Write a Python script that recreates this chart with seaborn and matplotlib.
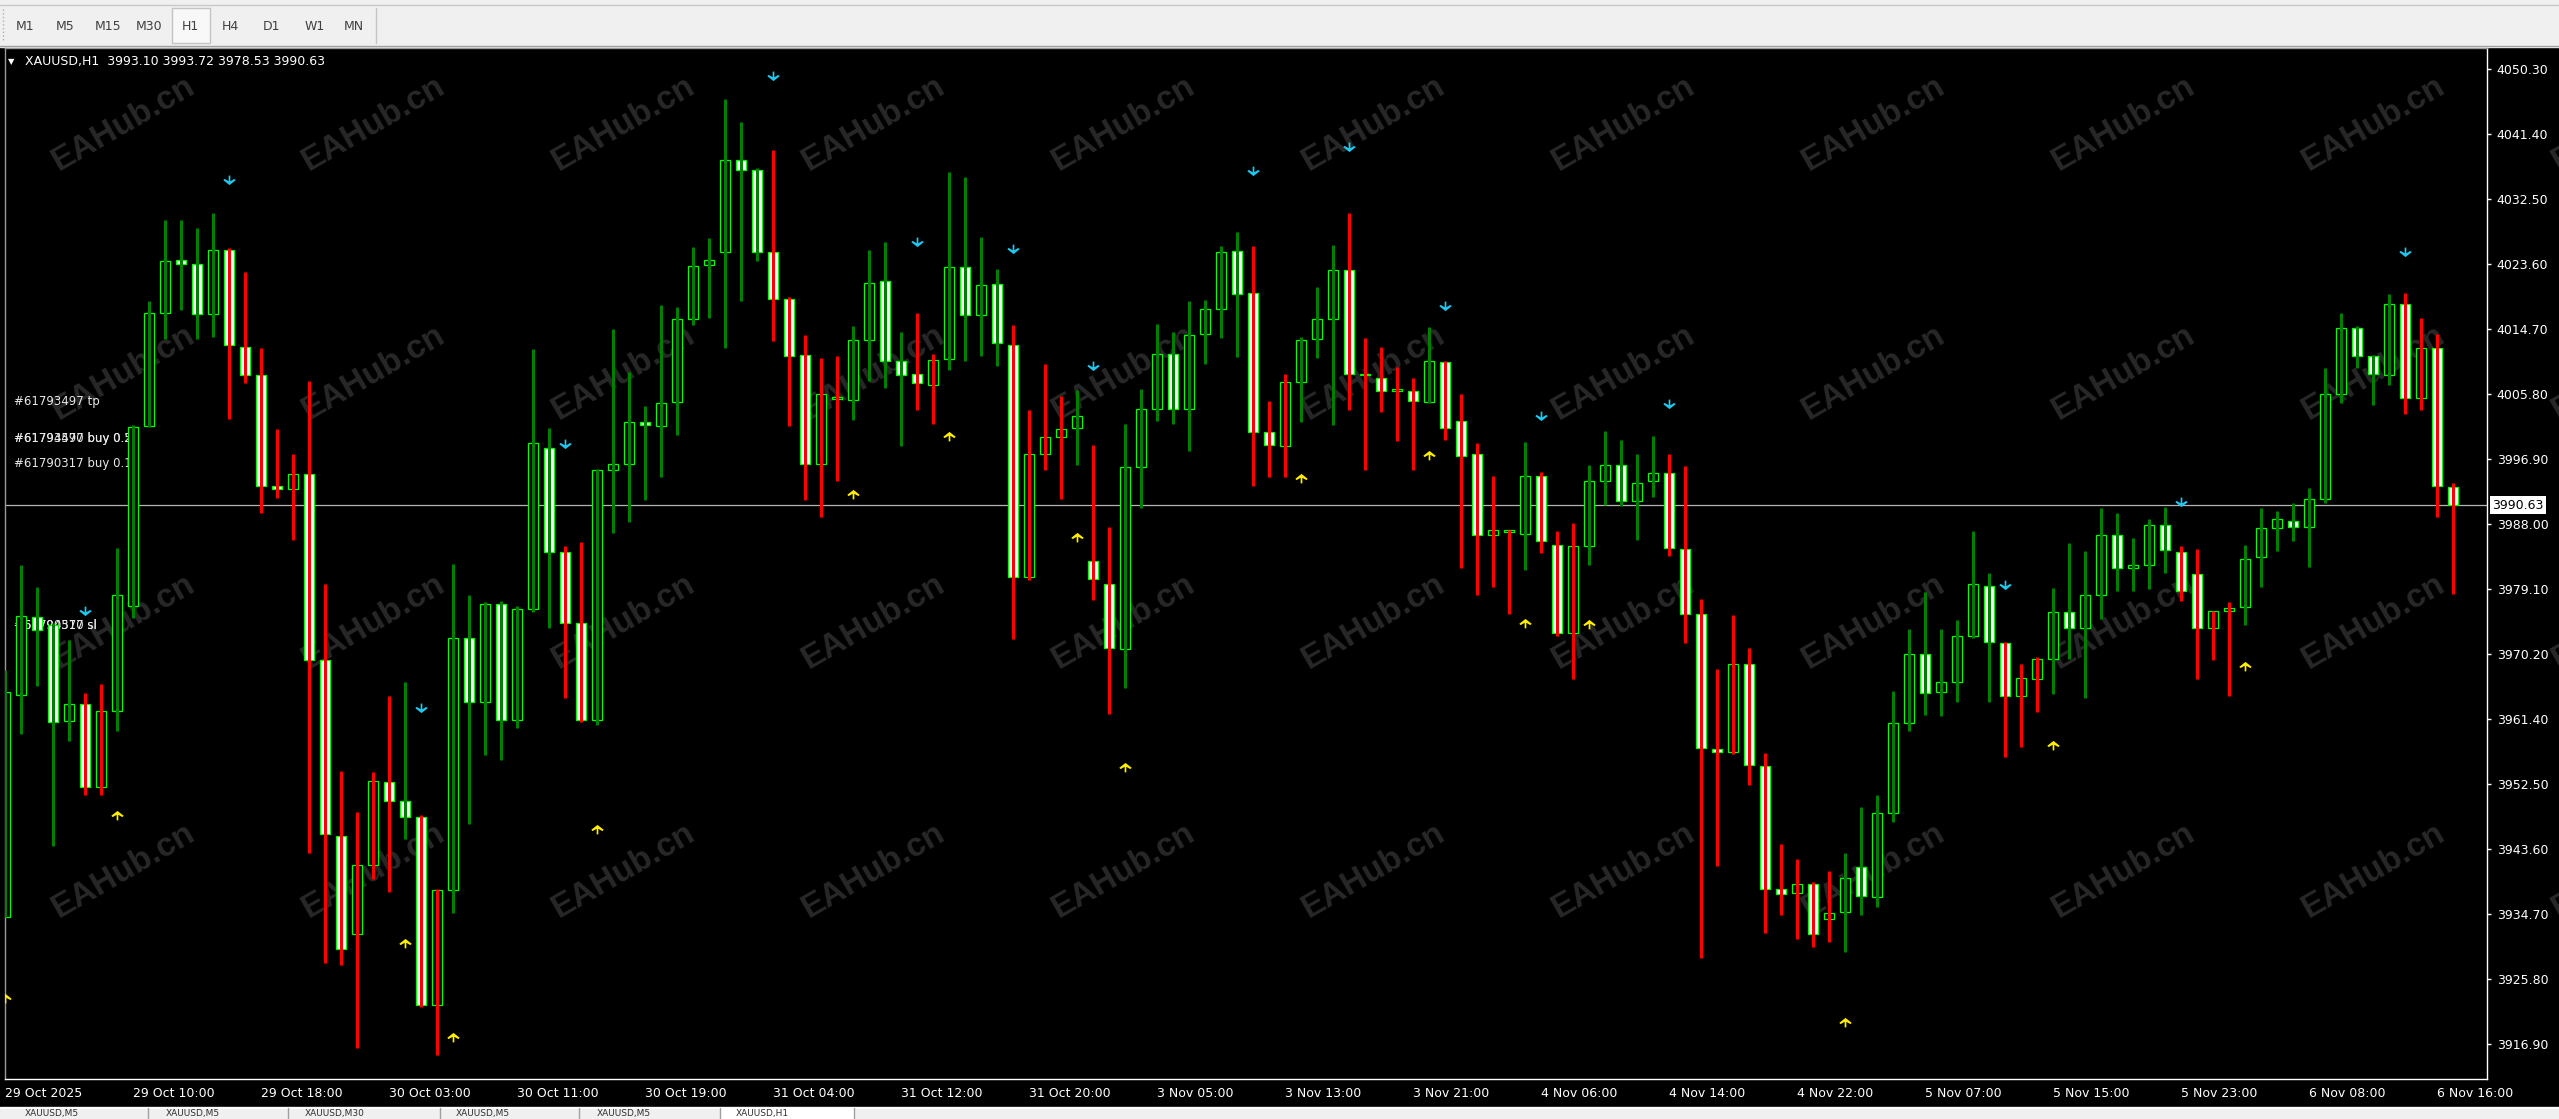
import numpy as np
import matplotlib
matplotlib.use('Agg')
import matplotlib.pyplot as plt
from matplotlib.patches import Rectangle
from matplotlib.path import Path
import seaborn as sns

# XAUUSD H1 bars (oldest -> newest)
opens = [3934.2, 3964.6, 3975.3, 3974.2, 3961.1, 3963.4, 3952.0, 3962.4, 3976.9, 4001.5,
         4017.0, 4024.2, 4023.6, 4016.8, 4025.6, 4012.3, 4008.4, 3993.2, 3992.8, 3994.9,
         3969.4, 3945.4, 3931.9, 3941.4, 3952.7, 3950.2, 3947.9, 3922.2, 3937.9, 3972.5,
         3963.7, 3977.1, 3961.2, 3976.4, 3998.4, 3984.2, 3974.5, 3961.2, 3995.4, 3996.3,
         4002.0, 4001.5, 4004.7, 4016.1, 4023.5, 4025.3, 4037.9, 4036.5, 4025.3, 4018.8,
         4011.2, 3996.3, 4005.2, 4005.1, 4013.2, 4021.3, 4010.4, 4008.6, 4007.1, 4010.6,
         4023.2, 4016.7, 4020.9, 4012.6, 3980.8, 3997.7, 4000.0, 4001.2, 3983.0, 3979.8,
         3970.9, 3995.9, 4003.8, 4011.4, 4003.8, 4014.1, 4017.5, 4025.5, 4019.7, 4000.6,
         3998.7, 4007.5, 4013.4, 4016.1, 4022.8, 4008.4, 4008.0, 4006.2, 4006.3, 4004.7,
         4010.2, 4002.2, 3997.6, 3986.6, 3986.9, 3986.7, 3994.6, 3985.2, 3973.1, 3985.0,
         3994.0, 3996.1, 3991.2, 3993.9, 3995.1, 3984.6, 3975.7, 3957.2, 3956.8, 3968.9,
         3954.9, 3938.1, 3937.6, 3938.8, 3934.0, 3935.0, 3941.1, 3937.0, 3948.5, 3960.8,
         3970.3, 3965.0, 3966.5, 3972.7, 3979.6, 3971.8, 3964.5, 3966.8, 3969.6, 3976.0,
         3973.8, 3978.4, 3986.6, 3982.1, 3982.5, 3987.9, 3984.2, 3981.2, 3973.8, 3976.2,
         3976.7, 3983.5, 3987.5, 3988.5, 3987.7, 3991.5, 4005.9, 4014.9, 4011.1, 4008.4,
         4018.2, 4005.3, 4012.2, 3993.10]
highs = [3968.1, 3982.4, 3979.4, 3974.5, 3972.2, 3964.9, 3966.1, 3984.8, 4001.6, 4018.6,
         4029.7, 4029.7, 4028.6, 4030.6, 4025.8, 4022.5, 4012.1, 4001.1, 3997.7, 4007.6,
         3979.9, 3954.3, 3948.6, 3954.1, 3964.5, 3966.4, 3948.2, 3938.1, 3982.6, 3978.4,
         3977.4, 3977.5, 3976.8, 4012.0, 4001.2, 3985.1, 3985.6, 3995.6, 4014.8, 4008.9,
         4004.2, 4018.0, 4017.8, 4026.0, 4027.2, 4046.3, 4043.1, 4036.8, 4039.3, 4019.2,
         4014.0, 4010.8, 4011.1, 4015.2, 4025.6, 4026.7, 4014.4, 4017.0, 4011.3, 4036.3,
         4035.6, 4027.4, 4023.0, 4015.3, 4003.6, 4010.0, 4005.6, 4006.4, 3998.9, 3987.7,
         4001.8, 4006.5, 4015.5, 4014.3, 4018.6, 4018.7, 4026.1, 4028.0, 4026.1, 4004.9,
         4008.6, 4013.6, 4020.5, 4026.2, 4030.7, 4013.5, 4012.3, 4009.6, 4008.1, 4015.0,
         4010.4, 4005.8, 3999.2, 3994.7, 3987.3, 3999.3, 3995.2, 3987.1, 3988.2, 3996.2,
         4000.8, 3999.6, 3997.7, 4000.1, 3997.7, 3996.0, 3977.8, 3968.2, 3975.6, 3971.1,
         3956.7, 3944.2, 3942.2, 3939.0, 3940.5, 3943.0, 3949.3, 3950.9, 3965.2, 3973.7,
         3978.8, 3973.7, 3974.9, 3987.1, 3981.3, 3971.9, 3968.9, 3969.9, 3979.3, 3985.5,
         3984.3, 3990.3, 3989.5, 3986.1, 3988.8, 3990.4, 3985.1, 3984.6, 3976.2, 3977.4,
         3985.2, 3990.3, 3989.8, 3990.9, 3993.0, 4009.4, 4017.0, 4015.2, 4011.2, 4019.5,
         4019.7, 4016.3, 4014.1, 3993.72]
lows = [3934.2, 3959.3, 3965.9, 3944.0, 3958.3, 3950.9, 3950.9, 3959.7, 3975.2, 4001.4,
        4013.4, 4017.3, 4013.4, 4013.7, 4002.4, 4007.4, 3989.6, 3991.6, 3985.9, 3943.0,
        3928.0, 3927.7, 3916.3, 3939.5, 3937.7, 3944.9, 3922.0, 3915.4, 3934.8, 3947.0,
        3956.4, 3955.8, 3960.2, 3976.0, 3973.8, 3964.3, 3961.0, 3960.5, 3986.8, 3988.3,
        3991.4, 3994.5, 4000.2, 4015.3, 4016.3, 4012.1, 4018.6, 4024.0, 4013.1, 4001.5,
        3991.4, 3989.0, 3994.0, 4002.3, 4007.6, 4006.7, 3998.7, 4003.6, 4001.8, 4009.1,
        4010.4, 4011.1, 4009.7, 3972.3, 3980.4, 3995.4, 3991.5, 3996.1, 3977.7, 3962.1,
        3965.6, 3990.3, 4002.2, 4001.8, 3998.0, 4010.0, 4013.5, 4010.9, 3993.3, 3994.5,
        3994.5, 4002.0, 4010.8, 4001.6, 4003.6, 3995.4, 4003.4, 3999.4, 3995.4, 4004.6,
        3999.6, 3982.1, 3978.4, 3979.5, 3975.8, 3981.7, 3984.1, 3972.7, 3966.8, 3982.4,
        3990.6, 3990.5, 3985.9, 3991.7, 3983.7, 3971.8, 3928.6, 3941.2, 3956.6, 3952.4,
        3932.1, 3934.5, 3931.3, 3930.2, 3930.8, 3929.5, 3934.6, 3935.7, 3947.3, 3959.7,
        3961.9, 3961.8, 3963.7, 3972.5, 3963.7, 3956.2, 3957.5, 3962.3, 3964.8, 3969.6,
        3964.2, 3975.1, 3978.9, 3978.9, 3979.1, 3981.4, 3977.5, 3966.8, 3969.4, 3964.5,
        3974.2, 3979.5, 3984.4, 3985.7, 3982.2, 3991.0, 4004.6, 4009.4, 4004.4, 4007.1,
        4003.1, 4003.6, 3989.0, 3978.53]
closes = [3965.0, 3975.5, 3973.6, 3961.0, 3963.4, 3952.0, 3962.4, 3978.3, 4001.4, 4017.0,
          4024.0, 4023.6, 4016.8, 4025.6, 4012.6, 4008.4, 3993.2, 3992.8, 3994.9, 3969.4,
          3945.6, 3929.9, 3941.4, 3952.9, 3950.2, 3948.0, 3922.2, 3937.9, 3972.5, 3963.7,
          3977.1, 3961.2, 3976.4, 3999.2, 3984.2, 3974.5, 3961.2, 3995.4, 3996.3, 4002.0,
          4001.6, 4004.6, 4016.1, 4023.4, 4024.2, 4037.9, 4036.5, 4025.3, 4018.8, 4011.0,
          3996.3, 4005.8, 4005.5, 4013.2, 4021.0, 4010.4, 4008.4, 4007.4, 4010.5, 4023.2,
          4016.7, 4020.8, 4012.9, 3980.8, 3997.7, 4000.0, 4001.1, 4002.9, 3980.6, 3971.1,
          3995.9, 4003.8, 4011.4, 4003.8, 4014.0, 4017.5, 4025.3, 4019.6, 4000.6, 3998.9,
          4007.5, 4013.3, 4016.1, 4022.8, 4008.6, 4008.6, 4006.2, 4006.6, 4004.9, 4010.4,
          4001.2, 3997.4, 3986.6, 3987.3, 3987.3, 3994.6, 3985.7, 3973.1, 3985.0, 3994.0,
          3996.1, 3991.2, 3993.7, 3995.1, 3984.8, 3975.7, 3957.4, 3956.9, 3968.9, 3955.1,
          3938.1, 3937.4, 3938.8, 3931.9, 3934.8, 3939.6, 3937.2, 3948.5, 3960.8, 3970.3,
          3964.9, 3966.4, 3972.7, 3979.9, 3971.9, 3964.5, 3967.0, 3969.6, 3976.0, 3973.8,
          3978.3, 3986.6, 3982.1, 3982.5, 3987.9, 3984.5, 3978.9, 3973.8, 3976.1, 3976.6,
          3983.3, 3987.5, 3988.8, 3987.7, 3991.5, 4005.9, 4014.9, 4011.0, 4008.6, 4018.2,
          4005.3, 4012.2, 3993.3, 3990.63]
# indicator direction painted on the high-low bar (+1 up, -1 down)
signal = [1, 1, 1, 1, 1, -1, -1, 1, 1, 1, 1, 1, 1, 1, -1, -1, -1, -1, -1, -1,
          -1, -1, -1, -1, -1, 1, -1, -1, 1, 1, 1, 1, 1, 1, 1, -1, -1, 1, 1, 1,
          1, 1, 1, 1, 1, 1, 1, 1, -1, -1, -1, -1, -1, 1, 1, 1, 1, -1, -1, 1,
          1, 1, 1, -1, -1, -1, -1, 1, -1, -1, 1, 1, 1, 1, 1, 1, 1, 1, -1, -1,
          -1, 1, 1, 1, -1, -1, -1, -1, -1, 1, -1, -1, -1, -1, -1, 1, -1, -1, -1, 1,
          1, 1, 1, 1, -1, -1, -1, -1, -1, -1, -1, -1, -1, -1, -1, 1, 1, 1, 1, 1,
          1, 1, 1, 1, 1, -1, -1, -1, 1, 1, 1, 1, 1, 1, 1, 1, -1, -1, -1, -1,
          1, 1, 1, 1, 1, 1, 1, 1, 1, 1, -1, -1, -1, -1]

# signal arrows (bar index, price)
dn_idx = [5, 14, 26, 35, 48, 57, 63, 68, 78, 84, 90, 96, 104, 125, 136, 150]
dn_price = [3976.0, 4035.0, 3962.8, 3998.9, 4049.2, 4026.5, 4025.6, 4009.6,
            4036.2, 4039.5, 4017.7, 4002.7, 4004.4, 3979.6, 3991.0, 4025.1]
up_idx = [0, 7, 25, 28, 37, 53, 59, 67, 70, 81, 89, 95, 99, 115, 128, 140]
up_price = [3923.3, 3948.4, 3930.8, 3918.0, 3946.5, 3992.3, 4000.2, 3986.4,
            3954.9, 3994.5, 3997.6, 3974.7, 3974.5, 3920.0, 3958.0, 3968.7]

# order labels (text, price)
order_text = ['#61793497 tp', '#61794570 buy 0.2', '#61793497 buy 0.5',
              '#61790317 buy 0.1', '#61794570 sl', '#61790317 sl']
order_price = [4004.8, 3999.8, 3999.8, 3996.3, 3974.2, 3974.2]

y_ticks = [4050.30, 4041.40, 4032.50, 4023.60, 4014.70, 4005.80, 3996.90, 3988.00,
           3979.10, 3970.20, 3961.40, 3952.50, 3943.60, 3934.70, 3925.80, 3916.90]
x_tick_labels = ['29 Oct 2025', '29 Oct 10:00', '29 Oct 18:00', '30 Oct 03:00', '30 Oct 11:00',
                 '30 Oct 19:00', '31 Oct 04:00', '31 Oct 12:00', '31 Oct 20:00', '3 Nov 05:00',
                 '3 Nov 13:00', '3 Nov 21:00', '4 Nov 06:00', '4 Nov 14:00', '4 Nov 22:00',
                 '5 Nov 07:00', '5 Nov 15:00', '5 Nov 23:00', '6 Nov 08:00', '6 Nov 16:00']
last_price = 3990.63
header = 'XAUUSD,H1  3993.10 3993.72 3978.53 3990.63'
tf_tabs = ['M1', 'M5', 'M15', 'M30', 'H1', 'H4', 'D1', 'W1', 'MN']
chart_tabs = ['XAUUSD,M5', 'XAUUSD,M5', 'XAUUSD,M30', 'XAUUSD,M5', 'XAUUSD,M5', 'XAUUSD,H1']

sns.set_style('dark')
plt.rcParams['font.family'] = ['DejaVu Sans']

W, H = 2559, 1119
fig = plt.figure(figsize=(W / 100, H / 100), dpi=100, facecolor='black')

# background layer in pixel coordinates (toolbar, tabs, watermark)
bg = fig.add_axes([0, 0, 1, 1], zorder=0)
bg.set_xlim(0, W)
bg.set_ylim(H, 0)
bg.axis('off')
bg.add_patch(Rectangle((0, 0), W, 47, color='#f0f0f0', zorder=1))
bg.plot([0, W], [5, 5], color='#c8c8c8', lw=1)
bg.plot([0, W], [46, 46], color='#a0a0a0', lw=1)
bg.add_patch(Rectangle((172, 8), 38, 35, fc='#f8f8f8', ec='#c4c4c4', lw=1, zorder=1))
bg.plot([376, 376], [8, 43], color='#c4c4c4', lw=1)
bg.plot([3, 3], [9, 42], color='#b0b0b0', lw=1, ls=':')
for lbl, xc in zip(tf_tabs, [25, 65, 108, 149, 190, 230, 272, 315, 354]):
    bg.text(xc, 27, lbl, ha='center', va='center', fontsize=9, color='#404040', zorder=2)

bg.add_patch(Rectangle((0, 1107), W, 12, color='#f0f0f0', zorder=1))
bg.plot([0, W], [1107.5, 1107.5], color='white', lw=1.2, zorder=2)
bg.add_patch(Rectangle((720, 1108), 134, 11, color='white', zorder=1))
for xs in [148, 288, 440, 579, 720, 854]:
    bg.plot([xs, xs], [1108, 1119], color='#a0a0a0', lw=1, zorder=2)
for lbl, xs in zip(chart_tabs, [25, 166, 305, 456, 597, 736]):
    bg.text(xs, 1113.5, lbl, ha='left', va='center', fontsize=6.5, color='#303030', zorder=2)

for m in range(4):
    for n in range(11):
        bg.text(124 + 250 * n, 124 + 249 * m, 'EAHub.cn', rotation=30, ha='center', va='center',
                rotation_mode='anchor', fontsize=24, fontweight='bold', family='Liberation Sans',
                color='#282828', zorder=1)

bg.text(11, 62, '\u25bc', ha='center', va='center', fontsize=6, color='white', zorder=2)
bg.text(25, 62, header, ha='left', va='center', fontsize=9, color='white', zorder=2)

# price chart
ax = fig.add_axes([5 / W, 1 - 1079 / H, 2482 / W, 1031 / H], zorder=1)
ax.set_facecolor('none')
ax.grid(False)

x = np.arange(len(opens))
o = np.array(opens)
c = np.array(closes)
bear = c < o
body_lo = np.minimum(o, c)
body_h = np.maximum(np.abs(c - o), 0.12)

for txt, p in zip(order_text, order_price):
    ax.text(0.54, p, txt, ha='left', va='center', fontsize=8.5, color='#e8e8e8', zorder=1)

ax.axhline(last_price, color='#b4b4b4', lw=0.9, zorder=1.5)
ax.bar(x, body_h, bottom=body_lo, width=0.62, color=np.where(bear, 'white', 'black'),
       edgecolor='#00ff00', linewidth=0.9, zorder=3)
ax.vlines(x, lows, highs, colors=np.where(np.array(signal) > 0, '#008000', '#ff0000'),
          linewidth=2.2, zorder=4)

dn_marker = Path([(-0.13, 0.9), (0.13, 0.9), (0.13, 0.05), (0.75, 0.4), (0.95, 0.2), (0.0, -0.55),
                  (-0.95, 0.2), (-0.75, 0.4), (-0.13, 0.05), (-0.13, 0.9)])
up_marker = Path([(vx, -vy) for vx, vy in dn_marker.vertices])
sns.scatterplot(x=dn_idx, y=dn_price, ax=ax, marker=dn_marker, s=80, color='#20c8f0',
                linewidth=0, zorder=5, legend=False)
sns.scatterplot(x=up_idx, y=up_price, ax=ax, marker=up_marker, s=80, color='#ffee00',
                linewidth=0, zorder=5, legend=False)

ax.set_xlim(-0.019, 155.106)
ax.set_ylim(3912.09, 4053.22)

ax.yaxis.tick_right()
ax.set_yticks(y_ticks, labels=[f'{v:.2f}' for v in y_ticks])
ax.set_xticks(x[::8], labels=x_tick_labels)
for t in ax.get_xticklabels():
    t.set_ha('left')
ax.tick_params(axis='both', colors='white', labelcolor='white', length=3, width=1,
               direction='out', pad=3, labelsize=9)
ax.tick_params(axis='y', pad=4)
ax.set_xlabel('')
ax.set_ylabel('')
for side in ['right', 'bottom']:
    ax.spines[side].set_color('white')
    ax.spines[side].set_linewidth(1)
    ax.spines[side].set_visible(True)
for side in ['left', 'top']:
    ax.spines[side].set_color('#9a9a9a')
    ax.spines[side].set_linewidth(1)
    ax.spines[side].set_visible(True)

ax.annotate(f'{last_price:.2f}', xy=(1.0, last_price), xycoords=('axes fraction', 'data'),
            xytext=(5, 0), textcoords='offset pixels', ha='left', va='center', fontsize=9,
            color='black', annotation_clip=False, zorder=6,
            bbox=dict(boxstyle='square,pad=0.2', fc='white', ec='none'))

fig.savefig('out.png', dpi=100, facecolor='black')
